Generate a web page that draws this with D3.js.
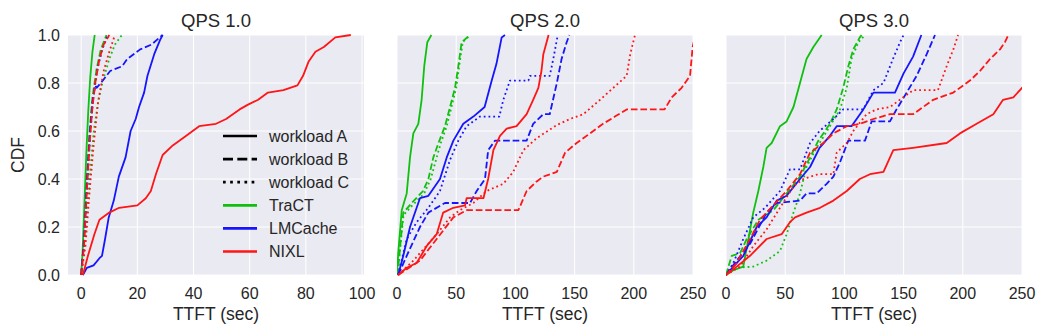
<!DOCTYPE html>
<html>
<head>
<meta charset="utf-8">
<script src="https://cdn.jsdelivr.net/npm/d3@7"></script>
<style>
  body { margin: 0; background: #fff; }
  text { font-family: "Liberation Sans", Arial, sans-serif; fill: #262626; }
</style>
</head>
<body>
<svg id="chart" width="1047" height="336"></svg>
<script>
// panels, systems and workloads
const panelTitles = ["QPS 1.0", "QPS 2.0", "QPS 3.0"];
const panelXMax = [100, 250, 250];
const xTicks1 = [0, 20, 40, 60, 80, 100];
const xTicks23 = [0, 50, 100, 150, 200, 250];
const yTicks = [0, 0.2, 0.4, 0.6, 0.8, 1.0];
const systems = ["TraCT", "LMCache", "NIXL"];
const systemColors = ["#0fc00f", "#1515ff", "#ff1515"];
const workloads = ["workload A", "workload B", "workload C"];

// CDF points [TTFT sec, cumulative fraction]
// QPS 1.0
const q1TractA = [[0,0],[0.5,0.1],[1,0.25],[1.8,0.5],[2.5,0.68],[3.2,0.82],[4,0.93],[4.8,1]];
const q1TractB = [[0,0],[1,0.15],[2,0.4],[3,0.6],[4,0.74],[5.5,0.86],[7,0.94],[9,1]];
const q1TractC = [[0,0],[1.5,0.15],[3,0.4],[4.5,0.6],[6,0.72],[7.5,0.8],[10,0.9],[12,0.96],[14.5,1]];
const q1LmA = [[0.6,0],[2,0.03],[4.4,0.04],[6.5,0.07],[7.4,0.08],[8.5,0.15],[9.8,0.24],[11.6,0.31],[13.4,0.41],[15.8,0.49],[17.6,0.6],[19.4,0.65],[20.6,0.7],[22.4,0.76],[23.6,0.83],[26,0.92],[28.1,0.98],[29,1]];
const q1LmB = [[0,0],[1,0.15],[2,0.38],[3,0.58],[4,0.72],[5,0.79],[5.5,0.78],[7,0.8],[10.3,0.85],[14.6,0.87],[16.4,0.9],[21,0.94],[25,0.96],[28,0.99],[29,1]];
const q1LmC = [[0,0],[1.2,0.15],[2.3,0.4],[3.3,0.6],[4.3,0.74],[5.8,0.86],[7.5,0.94],[9.5,1]];
const q1NixlA = [[0.6,0],[2.4,0.08],[4.7,0.17],[6.5,0.23],[10,0.26],[13.5,0.28],[20,0.29],[23,0.32],[24.8,0.35],[26.6,0.42],[29,0.5],[32.6,0.54],[37.4,0.58],[42,0.62],[48,0.63],[51.6,0.65],[56.4,0.69],[59.4,0.71],[63,0.73],[66.5,0.76],[72,0.77],[77,0.79],[79,0.83],[81,0.89],[83.4,0.93],[86.4,0.95],[90.5,0.99],[96,1]];
const q1NixlB = [[0,0],[1,0.12],[2,0.35],[3,0.55],[4,0.7],[5,0.8],[6.5,0.9],[8,0.96],[10,1]];
const q1NixlC = [[0,0],[1.5,0.12],[3,0.35],[4.5,0.55],[6,0.72],[8,0.85],[10,0.93],[12,1]];
// QPS 2.0
const q2TractA = [[0,0],[1,0.09],[4,0.27],[8.2,0.34],[11,0.49],[13.8,0.59],[18,0.63],[20.8,0.73],[23,0.87],[25.6,0.97],[29,1]];
const q2TractB = [[0,0],[1.2,0.04],[5.3,0.26],[12.4,0.3],[22,0.35],[26.5,0.4],[30.7,0.49],[35,0.55],[40.5,0.62],[44.8,0.7],[49,0.78],[51.8,0.87],[54.6,0.97],[61.7,1]];
const q2TractC = [[0,0],[1.2,0.04],[5.5,0.25],[13,0.29],[23,0.34],[28.5,0.4],[33.5,0.49],[37,0.55],[42,0.62],[46,0.7],[50,0.78],[52.5,0.87],[55.5,0.97],[62,1]];
const q2LmA = [[1,0],[5.3,0.08],[11,0.2],[16.6,0.28],[19.4,0.32],[26.5,0.33],[36.3,0.4],[42,0.49],[47.6,0.56],[56,0.63],[64.5,0.66],[74,0.7],[80,0.81],[84,0.88],[88.4,0.99],[91.2,1]];
const q2LmB = [[1,0],[8.2,0.08],[19.4,0.2],[26.5,0.26],[40.5,0.3],[61.7,0.3],[67.3,0.35],[74.3,0.4],[77,0.52],[82.8,0.56],[109.5,0.56],[115,0.63],[123.6,0.67],[129,0.67],[135,0.8],[139,0.9],[143.3,0.97],[145.6,1]];
const q2LmC = [[1,0],[8.2,0.15],[16.6,0.22],[26.5,0.28],[36.3,0.35],[44.8,0.48],[51.8,0.56],[58.8,0.62],[70,0.66],[86.4,0.66],[89.8,0.73],[95.4,0.81],[111,0.81],[112.3,0.83],[129,0.83],[132,0.9],[135.4,0.99],[136,1]];
const q2NixlA = [[1,0],[8.2,0.03],[16.6,0.05],[25,0.12],[33.5,0.17],[39,0.26],[47.6,0.28],[57.5,0.29],[58.8,0.32],[73,0.32],[77,0.4],[81.4,0.52],[87,0.58],[92.6,0.61],[101,0.62],[109.5,0.67],[115,0.73],[119.4,0.78],[122,0.85],[123.6,0.92],[128,1]];
const q2NixlB = [[1,0],[19.4,0.06],[33.5,0.15],[47.6,0.24],[58.8,0.27],[102.5,0.27],[109.5,0.35],[118,0.39],[123.6,0.41],[135,0.43],[142,0.51],[151.7,0.55],[163,0.59],[174,0.63],[184,0.66],[194,0.69],[226,0.69],[232,0.74],[240.4,0.78],[247.5,0.83],[249.7,0.95],[252,1]];
const q2NixlC = [[1,0],[13.8,0.06],[33.5,0.17],[44.8,0.24],[53,0.27],[64.5,0.3],[75.7,0.35],[89.8,0.38],[98.2,0.43],[106.7,0.52],[118,0.57],[135,0.625],[146,0.65],[157.4,0.67],[171.5,0.73],[182.7,0.78],[194,0.83],[197,0.92],[201,1]];
// QPS 3.0
const q3TractA = [[0,0],[6.2,0.02],[14.6,0.035],[18.9,0.15],[23,0.26],[27.3,0.35],[31.5,0.45],[34.3,0.53],[38.6,0.55],[45.6,0.62],[51.2,0.64],[57,0.7],[62.5,0.8],[68,0.9],[73.8,0.95],[80.8,1]];
const q3TractB = [[0,0],[4.8,0.08],[11.8,0.09],[17.5,0.15],[27.3,0.23],[40,0.27],[51.2,0.34],[62.5,0.41],[71,0.49],[78,0.56],[87.8,0.63],[93.5,0.69],[99,0.78],[103.3,0.87],[107.5,0.94],[113,0.99],[114.6,1]];
const q3TractC = [[0,0],[9,0.03],[23,0.035],[34.3,0.06],[45.6,0.1],[51.2,0.17],[57,0.26],[62.5,0.34],[68,0.45],[76.6,0.53],[87.8,0.62],[96.3,0.69],[102,0.78],[106,0.9],[111.8,0.97],[117.4,1]];
const q3LmA = [[0,0],[6.2,0.035],[14.6,0.08],[25.9,0.2],[34.3,0.24],[42.8,0.31],[51.2,0.33],[62.5,0.4],[71,0.45],[79,0.53],[87.8,0.58],[93.5,0.62],[106,0.62],[116,0.69],[124.5,0.76],[142.7,0.76],[150,0.84],[158,0.91],[165,1]];
const q3LmB = [[0,0],[9,0.06],[20.3,0.13],[34.3,0.26],[42.8,0.3],[62.5,0.31],[68,0.34],[76.6,0.34],[85,0.38],[90.7,0.41],[96.3,0.47],[103.3,0.56],[117.4,0.56],[123,0.64],[138.5,0.64],[144,0.69],[152.6,0.76],[161,0.83],[169.5,0.92],[176.5,1]];
const q3LmC = [[0,0],[6.2,0.05],[14.6,0.15],[23,0.24],[33,0.28],[45.6,0.35],[54,0.44],[62.5,0.44],[71,0.55],[79,0.6],[90.7,0.65],[99,0.69],[116,0.69],[124.5,0.77],[133,0.8],[141,0.9],[147,0.97],[150,1]];
const q3NixlA = [[0,0],[9,0.035],[20.3,0.08],[34.3,0.15],[47,0.17],[54,0.22],[58.3,0.24],[68,0.26],[79.4,0.28],[90.7,0.31],[102,0.35],[113,0.4],[121.6,0.42],[133,0.43],[141.3,0.52],[158,0.53],[186.4,0.55],[197.6,0.59],[211.7,0.63],[225.8,0.67],[234,0.73],[242.7,0.74],[250,0.78],[255,0.8]];
const q3NixlB = [[0,0],[9,0.05],[20.3,0.15],[28.7,0.23],[34.3,0.26],[51.2,0.35],[62.5,0.42],[71,0.51],[82.2,0.55],[90.7,0.59],[102,0.62],[113,0.63],[124.5,0.65],[138.5,0.67],[158,0.67],[175,0.73],[192,0.76],[206,0.81],[214.5,0.85],[223,0.9],[231.4,0.94],[235.6,0.97],[238.5,1]];
const q3NixlC = [[0,0],[11.8,0.035],[23,0.12],[34.3,0.19],[45.6,0.28],[57,0.37],[65.3,0.4],[78,0.42],[90.7,0.42],[93.5,0.51],[102,0.55],[107.5,0.6],[118.8,0.67],[127,0.69],[138.5,0.7],[158,0.77],[179,0.77],[186.4,0.87],[192,0.94],[196,1]];

const curves = [
  [[q1TractA, q1TractB, q1TractC], [q1LmA, q1LmB, q1LmC], [q1NixlA, q1NixlB, q1NixlC]],
  [[q2TractA, q2TractB, q2TractC], [q2LmA, q2LmB, q2LmC], [q2NixlA, q2NixlB, q2NixlC]],
  [[q3TractA, q3TractB, q3TractC], [q3LmA, q3LmB, q3LmC], [q3NixlA, q3NixlB, q3NixlC]]
];

const svg = d3.select("#chart");
const panelLeft = [68, 397, 726];
const panelW = 296;
const plotTop = 35, plotH = 240;
const lw = 1.8;
const dashes = [null, `${3.7*lw},${1.6*lw}`, `${1*lw},${1.65*lw}`];

const y = d3.scaleLinear().domain([0, 1]).range([plotTop + plotH, plotTop]);

panelTitles.forEach((title, p) => {
  const x0 = panelLeft[p];
  const x = p === 0
    ? d3.scaleLinear().domain([-4.7, 100.7]).range([x0, x0 + panelW])
    : d3.scaleLinear().domain([0, panelXMax[p]]).range([x0, x0 + panelW]);
  const ticks = p === 0 ? xTicks1 : xTicks23;
  const g = svg.append("g");

  g.append("rect").attr("x", x0).attr("y", plotTop).attr("width", panelW).attr("height", plotH)
    .attr("fill", "#eaeaf2");

  g.selectAll(".vg").data(ticks).join("line")
    .attr("x1", d => x(d)).attr("x2", d => x(d)).attr("y1", plotTop).attr("y2", plotTop + plotH)
    .attr("stroke", "#fff").attr("stroke-width", 1);
  g.selectAll(".hg").data(yTicks).join("line")
    .attr("x1", x0).attr("x2", x0 + panelW).attr("y1", d => y(d)).attr("y2", d => y(d))
    .attr("stroke", "#fff").attr("stroke-width", 1);

  const clipId = "clip" + p;
  svg.append("clipPath").attr("id", clipId).append("rect")
    .attr("x", x0).attr("y", plotTop - 2).attr("width", panelW).attr("height", plotH + 4);

  const line = d3.line().x(d => x(d[0])).y(d => y(d[1]));
  const lg = g.append("g").attr("clip-path", `url(#${clipId})`);
  curves[p].forEach((sys, s) => {
    sys.forEach((pts, w) => {
      lg.append("path").attr("d", line(pts))
        .attr("fill", "none").attr("stroke", systemColors[s])
        .attr("stroke-width", lw).attr("stroke-linejoin", "round")
        .attr("stroke-dasharray", dashes[w]);
    });
  });

  // x ticks
  g.selectAll(".xt").data(ticks).join("text")
    .attr("x", d => x(d)).attr("y", 299).attr("text-anchor", "middle")
    .attr("font-size", 16).text(d => d);
  g.append("text").attr("x", x0 + panelW / 2).attr("y", 320).attr("text-anchor", "middle")
    .attr("font-size", 17.5).text("TTFT (sec)");
  g.append("text").attr("x", x0 + panelW / 2).attr("y", 26.5).attr("text-anchor", "middle")
    .attr("font-size", 18.5).text(title);

  if (p === 0) {
    g.selectAll(".yt").data(yTicks).join("text")
      .attr("x", 60).attr("y", d => y(d) + 5.8).attr("text-anchor", "end")
      .attr("font-size", 16).text(d => d.toFixed(1));
    g.append("text").attr("transform", `translate(24,${plotTop + plotH / 2}) rotate(-90)`)
      .attr("text-anchor", "middle").attr("font-size", 17.5).text("CDF");

    // legend
    const items = workloads.map((w, i) => ({ label: w, color: "#000", dash: i }))
      .concat(systems.map((s, i) => ({ label: s, color: systemColors[i], dash: 0 })));
    const legW = 2.7;
    const legDash = [null, `${3.7*legW},${1.6*legW}`, `${1*legW},${1.65*legW}`];
    items.forEach((it, i) => {
      const ly = 136 + i * 23.1;
      g.append("line").attr("x1", 223).attr("x2", 257).attr("y1", ly).attr("y2", ly)
        .attr("stroke", it.color).attr("stroke-width", legW)
        .attr("stroke-dasharray", legDash[it.dash]);
      g.append("text").attr("x", 269).attr("y", ly + 5.5).attr("font-size", 16).text(it.label);
    });
  }
});
</script>
</body>
</html>
